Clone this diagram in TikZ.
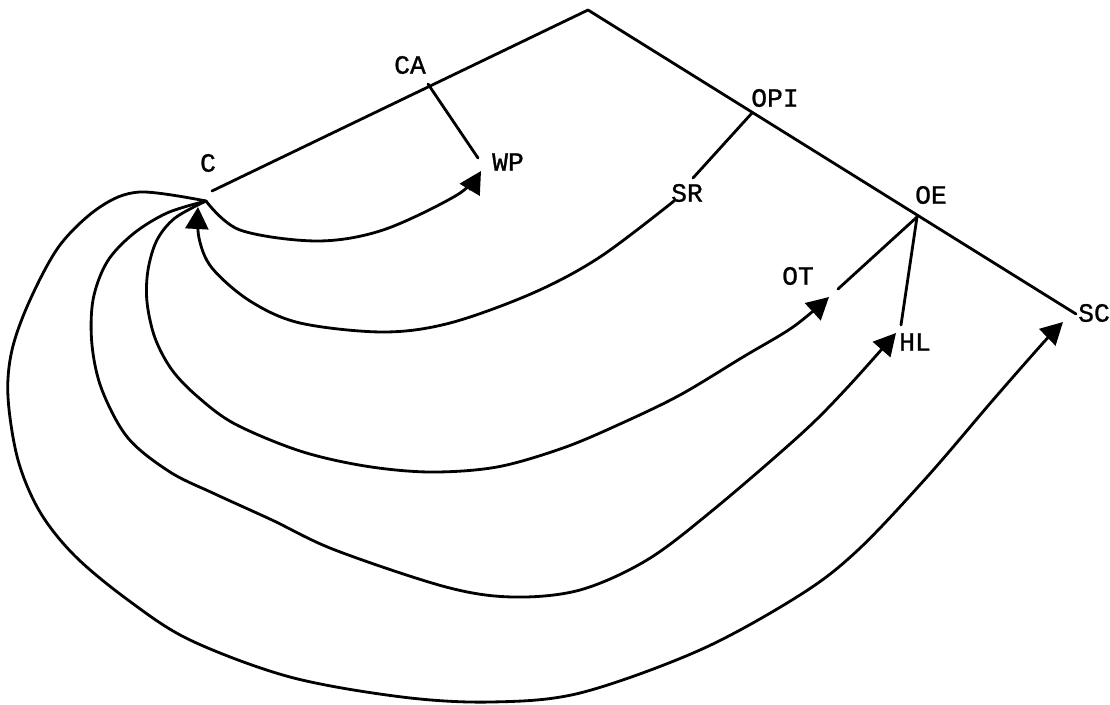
\documentclass[tikz,border=0pt]{standalone}
\usepackage{fontspec}
\newfontfamily\typewriter[FakeBold=1]{Liberation Mono}
\usetikzlibrary{arrows.meta}
\begin{document}
\begin{tikzpicture}[x=0.02cm,y=-0.02cm,
  edge/.style={line width=1.6pt, line cap=round, line join=round},
  flow/.style={edge, -{Triangle[length=0.44cm,width=0.46cm]}},
  lbl/.style={font=\typewriter\fontsize{15}{15}\selectfont, inner sep=0pt}]
\useasboundingbox (0,0) rectangle (1110,704);
% tree points
\coordinate (apex) at (588,10);
\coordinate (Cend) at (212,191);
\coordinate (C) at (206,201);
\coordinate (CA) at (428,84);
\coordinate (WPend) at (478,158);
\coordinate (OPI) at (752,113);
\coordinate (SRend) at (693,178);
\coordinate (SRstart) at (674,201);
\coordinate (OE) at (917,217);
\coordinate (OTend) at (838,289);
\coordinate (HLend) at (901,325);
\coordinate (SCend) at (1076,314);
% arrow tips
\coordinate (WPtip) at (481,171);
\coordinate (Ctip) at (198,207);
\coordinate (OTtip) at (829,297);
\coordinate (HLtip) at (896,333);
\coordinate (SCtip) at (1063,322);
% labels
\node[lbl] (lC) at (208,163) {C};
\node[lbl] (lCA) at (410,65) {CA};
\node[lbl] (lWP) at (508,162) {WP};
\node[lbl] (lOPI) at (775,98) {OPI};
\node[lbl] (lSR) at (687,193) {SR};
\node[lbl] (lOE) at (931,195) {OE};
\node[lbl] (lOT) at (798,276) {OT};
\node[lbl] (lHL) at (915,342) {HL};
\node[lbl] (lSC) at (1094,313) {SC};
% tree lines
\draw[edge] (Cend) -- (apex) -- (SCend);
\draw[edge] (CA) -- (WPend);
\draw[edge] (OPI) -- (SRend);
\draw[edge] (OE) -- (OTend);
\draw[edge] (OE) -- (HLend);
% curves
\draw[flow] plot[smooth, tension=0.55] coordinates {(C) (240,230) (317,241) (383,230) (457,195) (WPtip)};
\draw[flow] plot[smooth, tension=0.55] coordinates {(SRstart) (600,257) (533,293) (450,323) (383,332) (300,323) (250,301) (212,268) (199,238) (Ctip)};
\draw[flow] plot[smooth, tension=0.55] coordinates {(C) (175,218) (157,240) (148,270) (147,302) (155,338) (172,370) (198,397) (235,424) (300,451) (365,466) (430,472) (497,467) (563,448) (620,424) (680,395) (743,357) (793,327) (OTtip)};
\draw[flow] plot[smooth, tension=0.55] coordinates {(C) (167,213) (133,234) (107,262) (93,300) (92,345) (102,390) (128,438) (170,472) (215,494) (272,520) (335,550) (446,587) (513,597) (580,590) (647,560) (713,510) (800,435) (846,389) (HLtip)};
\draw[flow] plot[smooth, tension=0.55] coordinates {(C) (140,192) (100,207) (60,245) (30,300) (12,350) (8,397) (18,460) (40,512) (75,556) (128,600) (190,640) (290,677) (402,697) (491,702) (580,693) (700,650) (800,595) (858,550) (927,477) (993,400) (1043,343) (SCtip)};
\end{tikzpicture}
\end{document}
